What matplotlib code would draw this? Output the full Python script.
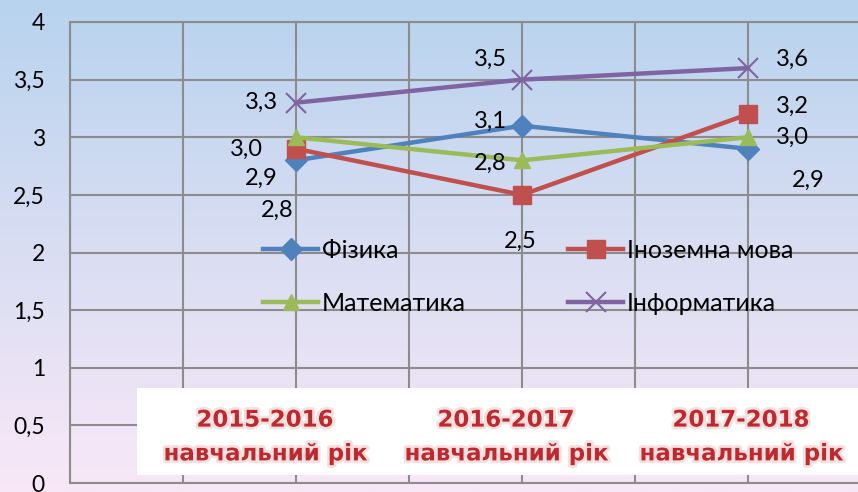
import matplotlib
matplotlib.use("Agg")
import matplotlib.pyplot as plt
import matplotlib.patheffects as pe
from matplotlib.patches import Rectangle
from matplotlib.ticker import FuncFormatter, MultipleLocator
import numpy as np

plt.rcParams['font.family'] = ['Lato', 'DejaVu Sans']

years = ['2015-2016\nнавчальний рік', '2016-2017\nнавчальний рік', '2017-2018\nнавчальний рік']
x_pos = [2, 4, 6]

physics = [2.8, 3.1, 2.9]
foreign = [2.9, 2.5, 3.2]
maths = [3.0, 2.8, 3.0]
informatics = [3.3, 3.5, 3.6]

names = ['Фізика', 'Іноземна мова', 'Математика', 'Інформатика']
colors = ['#4F81BD', '#C0504D', '#9BBB59', '#8064A2']
markers = ['D', 's', '^', 'x']
msizes = [11, 13, 12, 14]

# label offsets (pixels) for each series at each point
offsets = [
    [(-19, -50), (-32, 4), (60, -32)],
    [(-35, -30), (-2, -46), (44, 8)],
    [(-50, -12), (-32, -3), (44, 0)],
    [(-35, 0), (-32, 20), (44, 9)],
]

W, H = 858, 492
fig = plt.figure(figsize=(W / 100, H / 100), dpi=100)

# gradient background
bg = fig.add_axes([0, 0, 1, 1], zorder=-1)
top = np.array([184, 211, 238]) / 255
bot = np.array([249, 232, 247]) / 255
t = np.linspace(0, 1, 256)[:, None]
grad = (top * (1 - t) + bot * t)[:, None, :]
bg.imshow(grad, aspect='auto', extent=[0, 1, 0, 1])
bg.axis('off')

ax = fig.add_axes([70 / W, 1 - 483 / H, 791 / W, 461 / H])
ax.set_facecolor('none')
ax.set_xlim(0, 7)
ax.set_ylim(0, 4)
ax.xaxis.set_major_locator(MultipleLocator(1))
ax.yaxis.set_major_locator(MultipleLocator(0.5))
ax.grid(True, color='#8c8c8c', lw=1.5)
for s in ax.spines.values():
    s.set_color('#8c8c8c')
    s.set_linewidth(1.5)
ax.tick_params(length=0, labelsize=16.5, pad=18)
ax.set_xticklabels([])
ax.yaxis.set_major_formatter(FuncFormatter(lambda v, p: f'{v:g}'.replace('.', ',')))

series = [physics, foreign, maths, informatics]
lines = []
for vals, name, c, m, ms, offs in zip(series, names, colors, markers, msizes, offsets):
    mk = dict(marker=m, markersize=ms, color=c, lw=3.2, label=name, clip_on=False)
    if m == 'x':
        mk['markeredgewidth'] = 1.5
    ln, = ax.plot(x_pos, vals, **mk)
    lines.append(ln)
    for xi, v, o in zip(x_pos, vals, offs):
        ax.annotate(f'{v:.1f}'.replace('.', ','), (xi, v), xytext=o,
                    textcoords='offset pixels', ha='center', va='center', fontsize=17)

# legend rows: Фізика / Іноземна мова, Математика / Інформатика
order = [0, 2, 1, 3]
ax.legend([lines[i] for i in order], [names[i] for i in order],
          ncol=2, frameon=False, fontsize=18, loc='center left',
          bbox_to_anchor=(263 / W, 1 - 277 / H), bbox_transform=fig.transFigure,
          borderpad=0, borderaxespad=0, handlelength=2.2, handletextpad=0.15,
          columnspacing=4.1, labelspacing=1.2)

# white box with category labels
fig.patches.append(Rectangle((137 / W, 1 - 475 / H), (W - 137) / W, 87 / H,
                             transform=fig.transFigure, facecolor='white',
                             edgecolor='none', zorder=1))
for cx, lab in zip([265, 506, 741], years):
    fig.text(cx / W, 1 - 437 / H, lab, ha='center', va='center', fontsize=16.5,
             fontweight='bold', family='DejaVu Sans', color='#C0282D',
             linespacing=1.6, zorder=2,
             path_effects=[pe.withStroke(linewidth=4, foreground='#f7e0e0')])

fig.savefig('out.png', dpi=100)
